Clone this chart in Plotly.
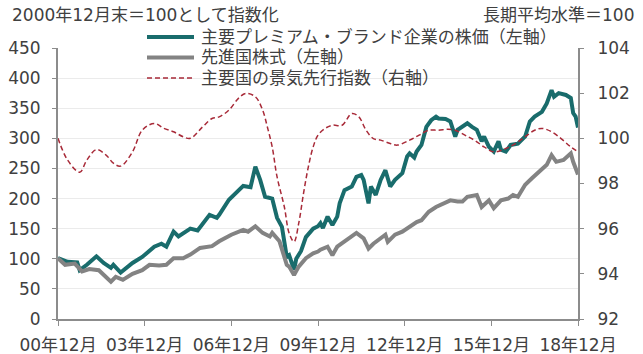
import plotly.graph_objects as go

# ---- data ----
brand_dates = ["2000-12","2001-04","2001-08","2001-09","2001-12","2002-04","2002-07","2002-10","2002-11","2003-02",
               "2003-07","2003-11","2004-04","2004-07","2004-09","2004-12","2005-02","2005-07","2005-10","2006-03",
               "2006-06","2006-07","2006-11","2007-02","2007-05","2007-08","2007-10","2007-12","2008-02","2008-05",
               "2008-07","2008-09","2008-11","2008-12","2009-02","2009-03","2009-05","2009-07","2009-10","2009-12",
               "2010-01","2010-02","2010-04","2010-06","2010-08","2010-09","2010-11","2011-02","2011-04","2011-06",
               "2011-07","2011-09","2011-10","2011-12","2012-02","2012-04","2012-05","2012-06","2012-08","2012-11",
               "2013-01","2013-02","2013-04","2013-05","2013-07","2013-09","2013-11","2014-01","2014-02","2014-05",
               "2014-07","2014-09","2014-10","2014-12","2015-02","2015-04","2015-06","2015-08","2015-09","2015-11",
               "2016-01","2016-03","2016-04","2016-06","2016-08","2016-11","2017-02","2017-04","2017-06","2017-09",
               "2017-11","2018-01","2018-02","2018-04","2018-07","2018-09","2018-10","2018-11","2018-12"]
brand_vals = [101,95,94,81,90,104,93,85,90,77,
              93,103,120,125,120,145,137,150,147,173,
              168,173,198,209,221,219,253,231,203,200,
              168,153,103,106,82,100,113,136,150,154,
              159,151,170,156,170,192,214,220,236,239,
              231,192,220,206,231,247,236,220,231,242,
              270,275,268,278,289,319,330,336,333,332,
              328,303,314,319,325,319,314,295,303,286,
              278,295,281,278,289,291,303,328,336,344,
              358,380,369,375,372,367,342,336,318]

world_dates = ["2000-12","2001-03","2001-07","2001-10","2002-01","2002-05","2002-10","2002-12","2003-03","2003-07",
               "2003-11","2004-02","2004-06","2004-09","2004-12","2005-04","2005-07","2005-11","2006-04","2006-07",
               "2006-12","2007-05","2007-07","2007-10","2008-01","2008-04","2008-05","2008-08","2008-11","2008-12",
               "2009-02","2009-04","2009-07","2009-10","2009-12","2010-01","2010-04","2010-06","2010-08","2010-12",
               "2011-04","2011-07","2011-09","2011-11","2012-01","2012-04","2012-05","2012-08","2012-11","2013-02",
               "2013-05","2013-07","2013-10","2014-01","2014-04","2014-07","2014-10","2014-12","2015-02","2015-06",
               "2015-08","2015-11","2016-01","2016-04","2016-07","2016-09","2016-11","2017-02","2017-05","2017-08",
               "2017-11","2018-01","2018-03","2018-06","2018-09","2018-10","2018-11","2018-12"]
world_vals = [101,90,92,79,83,81,62,70,65,75,
              81,90,89,90,101,101,107,118,121,129,
              140,148,145,154,143,137,143,129,90,87,
              73,87,101,109,112,115,120,106,120,131,
              143,134,117,125,131,140,128,140,145,153,
              161,164,178,186,192,197,195,195,203,206,
              186,197,184,197,200,206,203,223,234,245,
              256,272,261,264,275,261,250,240]

cli_dates = ["2000-12","2001-04","2001-09","2001-12","2002-04","2002-08","2002-11","2003-02","2003-07","2003-11",
             "2004-04","2004-08","2004-12","2005-04","2005-07","2005-12","2006-04","2006-07","2006-11","2007-03",
             "2007-06","2007-10","2008-01","2008-03","2008-05","2008-07","2008-10","2008-12","2009-02","2009-04",
             "2009-06","2009-08","2009-10","2009-12","2010-03","2010-06","2010-10","2011-02","2011-05","2011-08",
             "2011-11","2012-02","2012-06","2012-09","2013-02","2013-06","2013-10","2014-02","2014-06","2014-09",
             "2015-01","2015-05","2015-09","2016-01","2016-06","2016-10","2017-02","2017-06","2017-09","2018-01",
             "2018-05","2018-09","2018-12"]
cli_vals = [100.0,99.04,98.5,99.04,99.5,99.26,98.9,98.77,99.4,100.36,
            100.66,100.44,100.29,100.07,100.0,100.5,100.88,100.95,101.25,101.77,
            101.99,101.84,101.25,100.5,99.62,98.3,96.97,95.8,95.42,96.23,
            97.56,98.74,99.62,100.14,100.44,100.58,100.58,101.1,100.95,100.36,
            99.99,99.92,99.77,99.7,99.92,100.14,100.36,100.36,100.4,100.36,
            100.14,99.92,99.62,99.4,99.55,99.77,100.07,100.36,100.44,100.29,
            99.99,99.62,99.4]

xtick_vals = ["2000-12-01","2003-12-01","2006-12-01","2009-12-01","2012-12-01","2015-12-01","2018-12-01"]
xtick_text = ["00年12月","03年12月","06年12月","09年12月","12年12月","15年12月","18年12月"]

names = ["主要プレミアム・ブランド企業の株価（左軸）", "先進国株式（左軸）", "主要国の景気先行指数（右軸）"]
colors = ["#196c6c", "#838383", "#a82a38"]

FONT = "DejaVu Sans, Noto Sans CJK JP, sans-serif"
TXT = "#404040"
AX = "#8c8c8c"
DASH = "5px,3px"

# plot-area geometry in pixels (used for legend/titles placed in paper coords)
L, R, T, B = 58, 65, 48, 35
PW, PH = 643 - L - R, 354 - T - B

def px_x(px):
    return (px - L) / PW

def px_y(py):
    return (354 - B - py) / PH

fig = go.Figure()
fig.add_trace(go.Scatter(x=brand_dates, y=brand_vals, name=names[0], mode="lines",
                         line=dict(color=colors[0], width=4)))
fig.add_trace(go.Scatter(x=world_dates, y=world_vals, name=names[1], mode="lines",
                         line=dict(color=colors[1], width=4)))
fig.add_trace(go.Scatter(x=cli_dates, y=cli_vals, name=names[2], mode="lines", yaxis="y2",
                         line=dict(color=colors[2], width=1.5, dash=DASH, shape="spline")))

# manual legend (line samples + real text)
legend_rows = [37, 57.5, 78]
shapes = []
annotations = []
for i, (nm, col, ry) in enumerate(zip(names, colors, legend_rows)):
    shapes.append(dict(type="line", xref="paper", yref="paper",
                       x0=px_x(147), x1=px_x(194), y0=px_y(ry), y1=px_y(ry),
                       line=dict(color=col, width=4 if i < 2 else 1.5, dash="solid" if i < 2 else DASH)))
    annotations.append(dict(text=nm, xref="paper", yref="paper", x=px_x(199), y=px_y(ry),
                            xanchor="left", yanchor="middle", showarrow=False,
                            font=dict(size=17, color=TXT)))

annotations.append(dict(text="2000年12月末＝100として指数化", xref="paper", yref="paper",
                        x=px_x(10), y=px_y(15), xanchor="left", yanchor="middle", showarrow=False,
                        font=dict(size=17, color=TXT)))
annotations.append(dict(text="長期平均水準＝100", xref="paper", yref="paper",
                        x=px_x(636), y=px_y(15), xanchor="right", yanchor="middle", showarrow=False,
                        font=dict(size=17, color=TXT)))

fig.update_layout(
    width=643, height=354,
    margin=dict(l=L, r=R, t=T, b=B),
    paper_bgcolor="white", plot_bgcolor="white",
    font=dict(family=FONT, size=17, color=TXT),
    showlegend=False,
    xaxis=dict(type="date", range=["2000-12-01", "2018-12-01"], tickvals=xtick_vals, ticktext=xtick_text,
               showgrid=False, showline=True, linecolor=AX, linewidth=2, ticks="outside",
               ticklen=5, tickcolor=AX, tickwidth=1, ticklabelstandoff=5, zeroline=False, automargin=False),
    yaxis=dict(range=[0, 450], dtick=50, showgrid=True, gridcolor="#ebebeb", gridwidth=1,
               showline=True, linecolor=AX, linewidth=2, ticks="outside", ticklen=4, tickcolor=AX,
               ticklabelstandoff=8, zeroline=False, automargin=False),
    yaxis2=dict(range=[92, 104], dtick=2, overlaying="y", side="right", showgrid=False,
                showline=True, linecolor=AX, linewidth=2, ticks="outside", ticklen=4, tickcolor=AX,
                ticklabelstandoff=10, zeroline=False, automargin=False),
    shapes=shapes,
    annotations=annotations,
)

fig.write_html("out.html")
